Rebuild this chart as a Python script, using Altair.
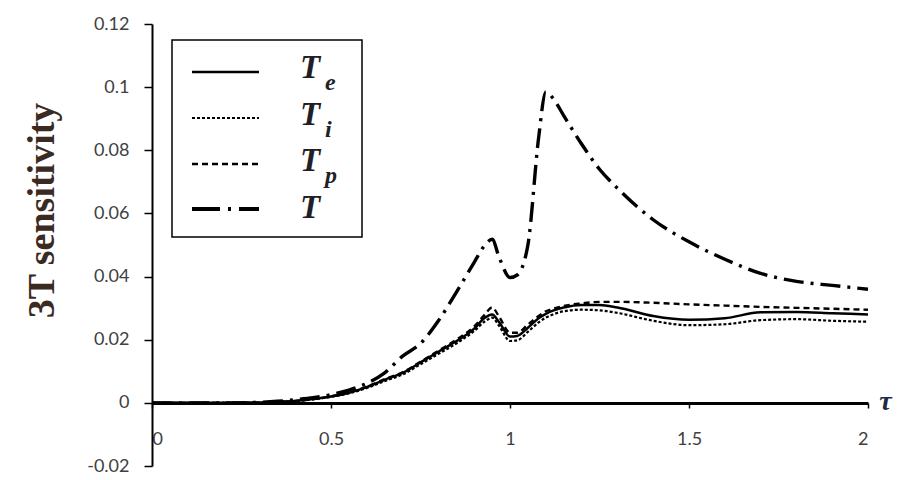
import altair as alt
import pandas as pd

tau = [0.0, 0.1, 0.2, 0.3, 0.35, 0.4, 0.45, 0.5, 0.55, 0.6, 0.65, 0.7, 0.75, 0.8, 0.85,
       0.9, 0.93, 0.95, 0.97, 1.0, 1.02, 1.05, 1.08, 1.1, 1.12, 1.15, 1.2, 1.25, 1.3,
       1.4, 1.5, 1.6, 1.7, 1.8, 1.9, 2.0]

T_total = [0, 0, 0, 0.0002, 0.0005, 0.001, 0.0016, 0.0026, 0.004, 0.0062, 0.0095, 0.0148,
           0.0188, 0.026, 0.035, 0.0445, 0.050, 0.0518, 0.046, 0.0397, 0.0405, 0.050,
           0.084, 0.0985, 0.0965, 0.091, 0.082, 0.074, 0.068, 0.058, 0.051, 0.0455,
           0.041, 0.0385, 0.0372, 0.036]

T_e = [0, 0, 0, 0.0001, 0.0003, 0.0006, 0.0012, 0.002, 0.0032, 0.005, 0.0073, 0.0095,
       0.0128, 0.0162, 0.0195, 0.0235, 0.027, 0.028, 0.0255, 0.021, 0.0212, 0.0238,
       0.0268, 0.0282, 0.0292, 0.0302, 0.031, 0.031, 0.0302, 0.0275, 0.0263, 0.0268,
       0.0287, 0.0288, 0.0284, 0.028]

T_i = [0, 0, 0, 0.0001, 0.0003, 0.0006, 0.0011, 0.0019, 0.003, 0.0047, 0.0069, 0.009,
       0.0122, 0.0155, 0.0188, 0.0228, 0.0258, 0.027, 0.0243, 0.0196, 0.0198, 0.0225,
       0.0255, 0.027, 0.028, 0.029, 0.0295, 0.0293, 0.0285, 0.026, 0.0246, 0.0249,
       0.0262, 0.0265, 0.026, 0.0257]

T_p = [0, 0, 0, 0.0001, 0.0003, 0.0006, 0.0012, 0.0021, 0.0033, 0.0051, 0.0075, 0.0097,
       0.013, 0.0165, 0.02, 0.0242, 0.028, 0.0302, 0.0272, 0.0222, 0.0222, 0.0248,
       0.0275, 0.029, 0.0298, 0.0307, 0.0315, 0.032, 0.032, 0.0317, 0.0312, 0.0308,
       0.0304, 0.0301, 0.0298, 0.0295]

x_ticks = [0, 0.5, 1, 1.5, 2]
y_ticks = [-0.02, 0, 0.02, 0.04, 0.06, 0.08, 0.1, 0.12]

df = pd.DataFrame({"tau": tau, "T": T_total, "Te": T_e, "Ti": T_i, "Tp": T_p})

LABEL_FONT = "Lato"
SERIF = "Liberation Serif"
TITLE_COLOR = "#3b2a1f"

x_enc = alt.X(
    "tau:Q",
    scale=alt.Scale(domain=[0, 2], nice=False, zero=False),
    axis=alt.Axis(
        values=x_ticks, labelExpr="'' + datum.value", grid=False,
        offset=-63, domainWidth=3, domainColor="black", tickColor="black",
        tickSize=5, tickWidth=1.5, labelPadding=22, labelFont=LABEL_FONT,
        labelFontSize=18, labelColor="#404040",
        title="τ", titleFont=SERIF, titleFontSize=28, titleFontWeight="bold",
        titleFontStyle="italic", titleColor="#1f2a44",
        titleX=733, titleY=-2, titleAlign="center", titleBaseline="middle",
    ),
)

def y_enc(field):
    return alt.Y(
        f"{field}:Q",
        scale=alt.Scale(domain=[-0.02, 0.12], nice=False, zero=False),
        axis=alt.Axis(
            values=y_ticks, labelExpr="'' + datum.value", grid=False,
            domainWidth=2, domainColor="black", tickColor="black", tickSize=8,
            tickWidth=1.5, labelPadding=15, labelFont=LABEL_FONT, labelFontSize=18,
            labelColor="#404040",
            title="3T sensitivity", titleFont=SERIF, titleFontSize=38,
            titleFontWeight="bold", titleColor=TITLE_COLOR, titleAngle=-90,
            titleX=-110, titleY=186, titleAlign="center", titleBaseline="middle",
        ),
    )

base = alt.Chart(df)
series_styles = [
    ("Te", [1, 0], 2.5),
    ("Ti", [3, 2], 2.2),
    ("Tp", [6, 4], 2.4),
    ("T", [20, 7, 3, 7], 3.4),
]
lines = []
for field, dash, w in series_styles:
    mk = dict(color="black", strokeWidth=w, interpolate="monotone")
    if dash != [1, 0]:
        mk["strokeDash"] = dash
    lines.append(base.mark_line(**mk).encode(x=x_enc, y=y_enc(field)))

one = alt.Chart(pd.DataFrame({"a": [0]}))

legend_layers = [
    one.mark_rect(fill="white", stroke="black", strokeWidth=1.5).encode(
        x=alt.value(20), x2=alt.value(210), y=alt.value(16), y2=alt.value(213)
    )
]
rows = [
    ("e", [1, 0], 2.5, 48, 54),
    ("i", [3, 2], 2.2, 94, 101),
    ("p", [6, 4], 2.5, 140, 147),
    ("", [28, 8, 3, 8], 4.0, 185, 194),
]
for sub, dash, w, ly, ty in rows:
    mk = dict(color="black", strokeWidth=w)
    if dash != [1, 0]:
        mk["strokeDash"] = dash
    legend_layers.append(
        one.mark_rule(**mk).encode(x=alt.value(40), x2=alt.value(107), y=alt.value(ly))
    )
    legend_layers.append(
        one.mark_text(text="T", font=SERIF, fontSize=33, fontWeight="bold",
                      fontStyle="italic", color="#1f1f2a", align="left",
                      baseline="alphabetic").encode(x=alt.value(148), y=alt.value(ty))
    )
    if sub:
        legend_layers.append(
            one.mark_text(text=sub, font=SERIF, fontSize=24, fontWeight="bold",
                          fontStyle="italic", color="#1f1f2a", align="left",
                          baseline="alphabetic").encode(x=alt.value(173), y=alt.value(ty + 12))
        )

chart = alt.layer(*lines, *legend_layers).properties(
    width=716, height=442,
    padding={"left": 152, "top": 24, "right": 36, "bottom": 14},
    autosize=alt.AutoSizeParams(type="none"),
    background="white",
).configure_view(stroke=None)

chart.save("out.html", embed_options={"renderer": "svg", "actions": False})
